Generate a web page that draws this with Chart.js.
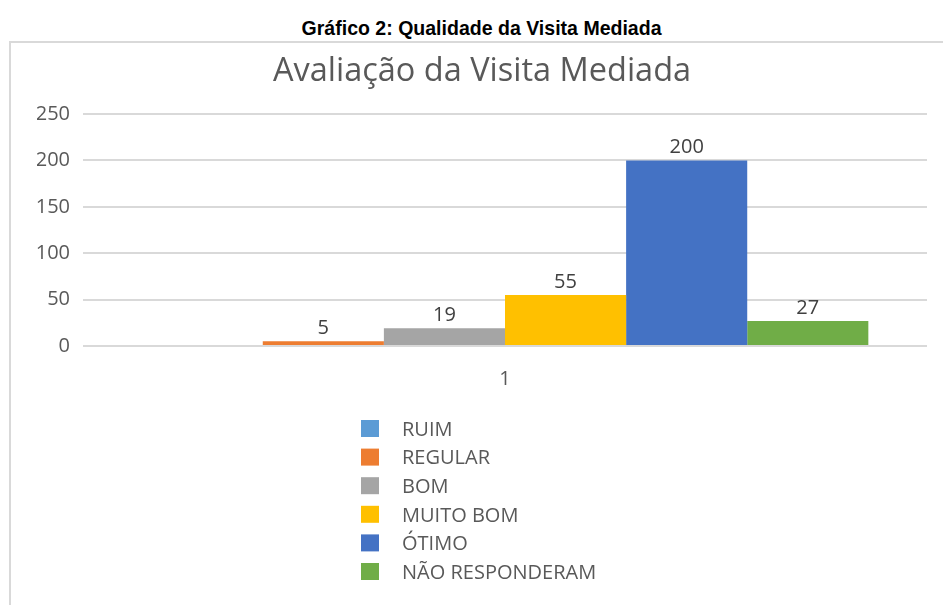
<!DOCTYPE html>
<html>
<head>
<meta charset="utf-8">
<script src="https://cdn.jsdelivr.net/npm/chart.js@4.4.1/dist/chart.umd.min.js"></script>
<style>
  html, body { margin: 0; padding: 0; background: #fff; }
  #wrap { position: relative; width: 943px; height: 605px; overflow: hidden; }
  #heading { position: absolute; left: 0; width: 964px; top: 16px; text-align: center;
    font-family: "Liberation Sans", Arial, sans-serif;
    font-weight: bold; font-size: 21px; color: #000; line-height: 24px; }
  #heading span { display: inline-block; transform: scaleX(0.93); transform-origin: center; }
  #box { position: absolute; left: 9px; top: 41px; width: 960px; height: 600px;
    border: 2px solid #d9d9d9; box-sizing: border-box; }
  canvas { position: absolute; left: 0; top: 0; }
</style>
</head>
<body>
<div id="wrap">
  <div id="heading"><span>Gráfico 2: Qualidade da Visita Mediada</span></div>
  <div id="box"></div>
  <canvas id="c" width="943" height="605"></canvas>
</div>
<script>
const categories = ['1'];
const seriesNames = ['RUIM', 'REGULAR', 'BOM', 'MUITO BOM', 'ÓTIMO', 'NÃO RESPONDERAM'];
const seriesValues = [0, 5, 19, 55, 200, 27];
const seriesColors = ['#5B9BD5', '#ED7D31', '#A5A5A5', '#FFC000', '#4472C4', '#70AD47'];
const yTicks = [0, 50, 100, 150, 200, 250];

Chart.defaults.font.family = "'Open Sans', 'Noto Sans', sans-serif";

const valueLabels = {
  id: 'valueLabels',
  afterDatasetsDraw(chart) {
    const ctx = chart.ctx;
    ctx.save();
    ctx.font = "20px 'Open Sans', sans-serif";
    ctx.fillStyle = '#404040';
    ctx.textAlign = 'center';
    ctx.textBaseline = 'middle';
    chart.data.datasets.forEach((ds, i) => {
      const meta = chart.getDatasetMeta(i);
      meta.data.forEach((bar, j) => {
        const v = ds.data[j];
        if (v > 0) ctx.fillText(String(v), bar.x, bar.y - 13);
      });
    });
    ctx.restore();
  }
};

const listLegend = {
  id: 'listLegend',
  afterDraw(chart) {
    const ctx = chart.ctx;
    const x0 = 361, y0 = 429, step = 28.6, box = 18;
    ctx.save();
    ctx.font = "20px 'Open Sans', sans-serif";
    ctx.textBaseline = 'middle';
    ctx.textAlign = 'left';
    chart.data.datasets.forEach((ds, i) => {
      const y = y0 + i * step;
      ctx.fillStyle = ds.backgroundColor;
      ctx.fillRect(x0, y - box / 2, box, box - 1);
      ctx.fillStyle = '#595959';
      ctx.fillText(ds.label, x0 + 41, y + 1);
    });
    ctx.restore();
  }
};

new Chart(document.getElementById('c'), {
  type: 'bar',
  data: {
    labels: categories,
    datasets: seriesNames.map((name, i) => ({
      label: name,
      data: [seriesValues[i]],
      backgroundColor: seriesColors[i],
      borderWidth: 0
    }))
  },
  options: {
    responsive: false,
    animation: false,
    events: [],
    categoryPercentage: 0.861,
    barPercentage: 1.0,
    layout: { padding: { top: 52, left: 37, right: 16, bottom: 193 } },
    plugins: {
      legend: { display: false },
      tooltip: { enabled: false },
      title: {
        display: true,
        text: 'Avaliação da Visita Mediada',
        color: '#595959',
        font: { size: 32.5, weight: 'normal' },
        padding: { top: 0, bottom: 23 }
      }
    },
    scales: {
      x: {
        grid: { display: false, drawTicks: false },
        border: { display: false },
        ticks: { color: '#595959', font: { size: 20 }, padding: 21 }
      },
      y: {
        min: 0,
        max: 250,
        afterBuildTicks(axis) { axis.ticks = yTicks.map(v => ({ value: v })); },
        afterFit(axis) { axis.width = 46; },
        grid: { color: '#d9d9d9', lineWidth: 2, drawTicks: false },
        border: { display: false },
        ticks: { color: '#595959', font: { size: 20 }, padding: 13 }
      }
    }
  },
  plugins: [valueLabels, listLegend]
});
</script>
</body>
</html>
